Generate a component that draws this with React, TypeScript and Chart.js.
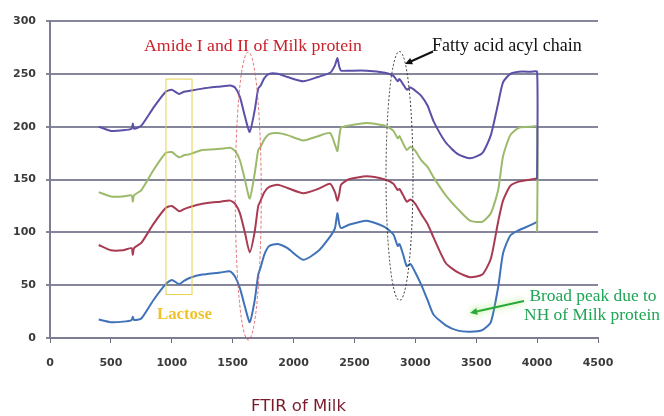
import { useEffect, useRef } from 'react';
import { Chart, registerables } from 'chart.js';

Chart.register(...registerables);

// Wavenumber (cm^-1) sample positions shared by all four spectra; the last 4000 is the end drop
const wavenumbers = [
  400, 500, 600, 670, 680, 690, 750, 850, 950, 1000,
  1060, 1100, 1150, 1250, 1400, 1480, 1520, 1560, 1600, 1640,
  1680, 1710, 1730, 1760, 1800, 1870, 1950, 2080, 2200, 2300,
  2340, 2360, 2375, 2390, 2450, 2600, 2750, 2820, 2855, 2870,
  2900, 2930, 2960, 3000, 3050, 3100, 3150, 3250, 3350, 3450,
  3550, 3620, 3680, 3720, 3780, 3850, 3950, 4000, 4000,
];

const purpleSeries = [
  200, 196, 196.5, 198, 203, 198, 201, 218, 233, 235,
  231, 233, 234, 236, 238, 239, 237, 228, 210, 195,
  215, 236, 239, 246, 250, 250, 247, 243, 247, 251,
  258, 265, 257, 253, 253, 253, 251, 248, 243, 245,
  240, 235, 237, 234, 229, 220, 205, 185, 174, 170,
  175, 192, 222, 242, 250, 252, 252, 252, 150,
];

const greenSeries = [
  138, 134, 134, 135, 129, 135, 140, 159, 175, 176,
  171, 173, 174, 178, 179, 180, 177, 168, 150, 132,
  155, 178, 181, 188, 193, 194, 192, 187, 191, 194,
  183, 177, 190, 199, 201, 203.5, 201, 196, 189, 191,
  184, 178, 181, 177, 168, 162, 152, 135, 122, 111,
  110, 118, 140, 172, 192, 199, 200, 200, 100,
];

const redSeries = [
  88, 83, 83, 85, 78.5, 85, 90, 108, 123, 125,
  120, 122, 124, 127, 129, 130, 127, 118, 100, 81,
  100, 125, 130, 138, 143, 145, 142, 137, 141, 146,
  138, 130, 136, 145, 150, 153, 150, 146, 140, 141,
  135, 129, 131, 127, 117, 108, 95, 71, 62, 57.5,
  60, 75, 110, 130, 144, 148, 150, 151, 151,
];

const blueSeries = [
  17.5, 15, 15.5, 17, 20, 17, 18.5, 36, 51, 55,
  51, 54, 57, 60, 62, 63, 58, 47, 30, 15,
  35, 60, 67, 79, 87, 89, 85, 74, 82, 96,
  104, 118, 108, 104, 107, 111, 105, 98, 87, 89,
  79, 68, 70, 62, 50, 36, 22, 12, 7, 6,
  7.5, 15, 48, 80, 97, 102, 107, 110, 110,
];

const xTicks = [0, 500, 1000, 1500, 2000, 2500, 3000, 3500, 4000, 4500];
const yTicks = [0, 50, 100, 150, 200, 250, 300];

const chartTitle = 'FTIR of Milk';
const amideLabel = 'Amide I and II of Milk protein';
const fattyLabel = 'Fatty acid acyl chain';
const lactoseLabel = 'Lactose';
const broadLabel = ['Broad peak due to', 'NH of Milk protein'];

const toPoints = (ys: number[]) => ys.map((v, i) => ({ x: wavenumbers[i], y: v }));

function fitSize(ctx: CanvasRenderingContext2D, text: string, family: string, weight: string, target: number) {
  ctx.font = `${weight} 20px ${family}`;
  const w = ctx.measureText(text).width;
  return (20 * target) / w;
}

function drawArrow(ctx: CanvasRenderingContext2D, x0: number, y0: number, x1: number, y1: number, color: string, head: number) {
  const ang = Math.atan2(y1 - y0, x1 - x0);
  ctx.strokeStyle = color;
  ctx.fillStyle = color;
  ctx.beginPath();
  ctx.moveTo(x0, y0);
  ctx.lineTo(x1 - Math.cos(ang) * head * 0.7, y1 - Math.sin(ang) * head * 0.7);
  ctx.stroke();
  ctx.beginPath();
  ctx.moveTo(x1, y1);
  ctx.lineTo(x1 - head * Math.cos(ang - 0.45), y1 - head * Math.sin(ang - 0.45));
  ctx.lineTo(x1 - head * Math.cos(ang + 0.45), y1 - head * Math.sin(ang + 0.45));
  ctx.closePath();
  ctx.fill();
}

const annotationPlugin = {
  id: 'ftirAnnotations',
  afterDatasetsDraw(chart: any) {
    const ctx: CanvasRenderingContext2D = chart.ctx;
    const xs = chart.scales.x;
    const ys = chart.scales.y;
    ctx.save();

    // Lactose box
    const bx0 = xs.getPixelForValue(948);
    const bx1 = xs.getPixelForValue(1162);
    const by0 = ys.getPixelForValue(245.5);
    const by1 = ys.getPixelForValue(41.6);
    ctx.strokeStyle = '#e6d24a';
    ctx.lineWidth = 1;
    ctx.setLineDash([]);
    ctx.strokeRect(bx0 + 0.5, by0 + 0.5, bx1 - bx0, by1 - by0);

    // Amide ellipse (red dashed)
    ctx.strokeStyle = 'rgba(220,90,90,0.85)';
    ctx.setLineDash([3, 2]);
    ctx.beginPath();
    ctx.ellipse(xs.getPixelForValue(1628), 196, 13, 144, 0, 0, Math.PI * 2);
    ctx.stroke();

    // Fatty acid ellipse (black dashed)
    ctx.strokeStyle = '#333';
    ctx.setLineDash([2, 2]);
    ctx.beginPath();
    ctx.ellipse(xs.getPixelForValue(2870), 176, 13.5, 124.5, 0, 0, Math.PI * 2);
    ctx.stroke();
    ctx.setLineDash([]);

    // Texts
    ctx.textBaseline = 'middle';
    ctx.textAlign = 'left';
    let s = fitSize(ctx, amideLabel, '"Liberation Serif"', 'normal', 218);
    ctx.font = `normal ${s}px "Liberation Serif"`;
    ctx.fillStyle = '#c8232c';
    ctx.fillText(amideLabel, 144, 46);

    s = fitSize(ctx, fattyLabel, '"Liberation Serif"', 'normal', 150);
    ctx.font = `normal ${s}px "Liberation Serif"`;
    ctx.fillStyle = '#111';
    ctx.fillText(fattyLabel, 432, 46);

    ctx.lineWidth = 2;
    drawArrow(ctx, 433, 51.5, 405, 64, '#111', 8);

    s = fitSize(ctx, lactoseLabel, '"Liberation Serif"', 'bold', 55);
    ctx.font = `bold ${s}px "Liberation Serif"`;
    ctx.fillStyle = '#f0c22a';
    ctx.fillText(lactoseLabel, 157, 315);

    s = fitSize(ctx, broadLabel[1], '"Liberation Serif"', 'normal', 136);
    ctx.font = `normal ${s}px "Liberation Serif"`;
    ctx.fillStyle = '#1fa555';
    ctx.textAlign = 'center';
    ctx.fillText(broadLabel[0], 593, 296);
    ctx.fillText(broadLabel[1], 592, 315);

    ctx.shadowColor = 'rgba(140,235,90,0.95)';
    ctx.shadowBlur = 7;
    ctx.lineWidth = 2;
    drawArrow(ctx, 524, 301, 470, 313, '#2aa83a', 8);
    ctx.shadowBlur = 0;
    ctx.shadowColor = 'transparent';

    // Title
    ctx.font = 'normal 16.5px "DejaVu Sans"';
    ctx.fillStyle = '#7a1a2c';
    ctx.textAlign = 'center';
    ctx.fillText(chartTitle, 298.5, 407);

    ctx.restore();
  },
};

export default function App() {
  const canvasRef = useRef<HTMLCanvasElement | null>(null);

  useEffect(() => {
    const canvas = canvasRef.current;
    if (!canvas) return;
    const mk = (label: string, data: number[], color: string) => ({
      label,
      data: toPoints(data),
      borderColor: color,
      backgroundColor: color,
      borderWidth: 2,
      pointRadius: 0,
      tension: 0.2,
      fill: false,
    });
    const chart = new Chart(canvas, {
      type: 'line',
      data: {
        datasets: [
          mk('Sample 1', purpleSeries, '#5a50a8'),
          mk('Sample 2', greenSeries, '#9cba6c'),
          mk('Sample 3', redSeries, '#a83a52'),
          mk('Sample 4', blueSeries, '#3f72b8'),
        ],
      },
      options: {
        responsive: false,
        animation: false,
        layout: { padding: { top: 21, right: 66, left: 0, bottom: 0 } },
        plugins: {
          legend: { display: false },
          tooltip: { enabled: false },
          title: { display: false },
        },
        scales: {
          x: {
            type: 'linear',
            min: 0,
            max: 4500,
            afterFit: (sc: any) => { sc.height = 78; },
            afterBuildTicks: (sc: any) => { sc.ticks = xTicks.map((v) => ({ value: v })); },
            grid: { display: true, drawOnChartArea: false, drawTicks: true, tickLength: 5, color: '#6d6d80', lineWidth: 1 },
            border: { display: true, color: '#7c7c92', width: 2 },
            ticks: {
              padding: 14,
              color: '#3a3a3a',
              font: { family: '"DejaVu Sans"', size: 11, weight: 'bold' },
              maxRotation: 0,
              callback: (v: any) => String(v),
            },
          },
          y: {
            type: 'linear',
            min: 0,
            max: 300,
            afterFit: (sc: any) => { sc.width = 50; },
            afterBuildTicks: (sc: any) => { sc.ticks = yTicks.map((v) => ({ value: v })); },
            grid: { display: true, drawTicks: true, tickLength: 4, color: '#85859c', lineWidth: 2 },
            border: { display: true, color: '#7c7c92', width: 2 },
            ticks: {
              padding: 10,
              color: '#3a3a3a',
              font: { family: '"DejaVu Sans"', size: 11, weight: 'bold' },
              callback: (v: any) => String(v),
            },
          },
        },
      },
      plugins: [annotationPlugin],
    } as any);
    return () => chart.destroy();
  }, []);

  return (
    <div style={{ position: 'absolute', left: 0, top: 0, width: 664, height: 416, background: '#fff' }}>
      <canvas ref={canvasRef} width={664} height={416} style={{ display: 'block' }} />
    </div>
  );
}
